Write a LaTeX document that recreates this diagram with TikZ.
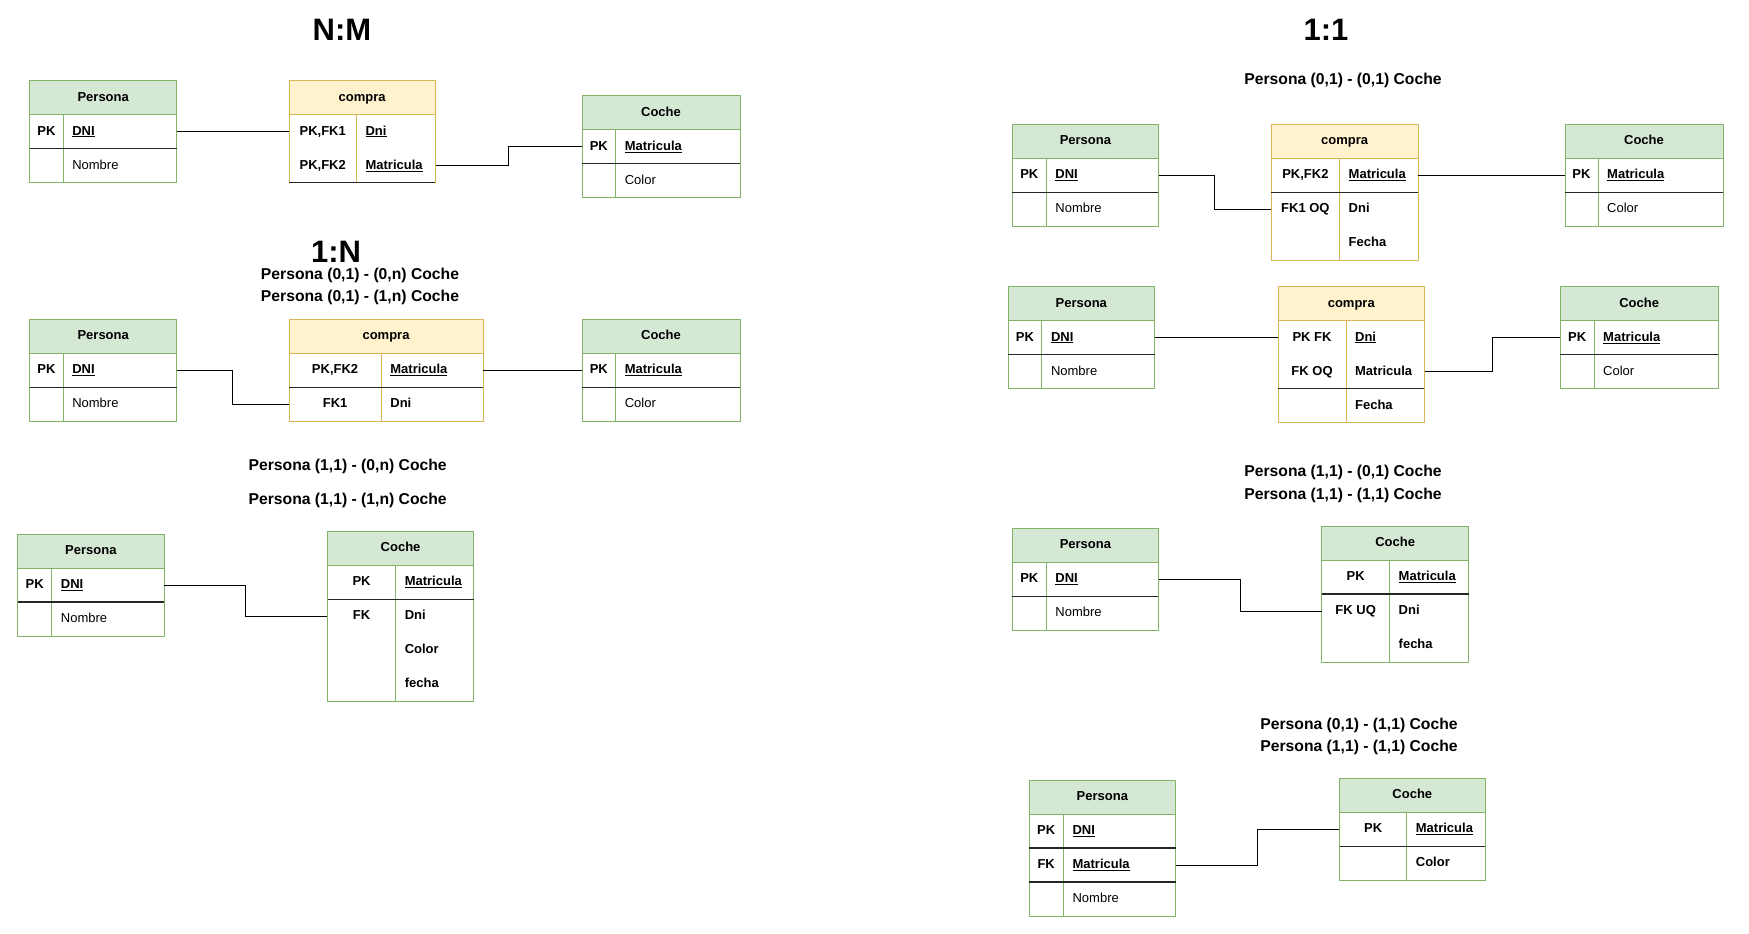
\documentclass[tikz,border=0pt]{standalone}
\usepackage{fontspec}
\setmainfont{Liberation Sans}
\definecolor{verdefondo}{HTML}{D5E8D4}
\definecolor{verdeborde}{HTML}{82B366}
\definecolor{amarillofondo}{HTML}{FFF2CC}
\definecolor{amarilloborde}{HTML}{D6B656}
\tikzset{
	cab/.style={line width=0.8pt, inner sep=0pt, minimum height=34pt, text height=9.5pt, text depth=2.5pt, font=\bfseries\fontsize{13}{15}\selectfont},
	filabox/.style={inner sep=0pt, minimum height=34pt},
	clave/.style={inner sep=0pt, text height=9.5pt, text depth=2.5pt, font=\bfseries\fontsize{13}{15}\selectfont},
	campo/.style={anchor=west, inner sep=0pt, text height=9.5pt, text depth=2.5pt, font=\bfseries\fontsize{13}{15}\selectfont},
	campofino/.style={anchor=west, inner sep=0pt, text height=9.5pt, text depth=2.5pt, font=\fontsize{13}{15}\selectfont},
	linea/.style={line width=1.4pt, black!85},
	union/.style={line width=1pt},
	titulo/.style={inner sep=0pt, font=\bfseries\fontsize{31}{35}\selectfont},
	rotulo/.style={inner sep=0pt, font=\bfseries\fontsize{15.7}{18}\selectfont}
}
\newcommand{\entidad}[4]{%
	\node[cab, fill=#2fondo, draw=#2borde, minimum width=\ancho*1pt] (#1) at ({\ancho/2},17) {#4};
	\draw[#2borde, line width=0.8pt] (0,34) rectangle (\ancho,{34+34*#3});
	\draw[#2borde, line width=0.8pt] (\col,34) -- (\col,{34+34*#3});
}
\newcommand{\fila}[5]{%
	\node[filabox, minimum width=\ancho*1pt] (#1) at ({\ancho/2},{17+34*#2}) {};
	\node[clave] at ({\col/2},{17+34*#2}) {#3};
	\node[#4] at ({\col+9},{17+34*#2}) {#5};
}
\newcommand{\separa}[1]{\draw[linea] (0,{34+34*#1}) -- (\ancho,{34+34*#1});}

\begin{document}
\begin{tikzpicture}[x=1pt, y=-1pt]
			\useasboundingbox (0,0) rectangle (1749,934);
			
			\node[titulo] (tnm) at (342,30) {N:M};
			\node[titulo] (t1n) at (336,252) {1:N};
			\node[titulo] (t11) at (1326,30) {1:1};
			\node[rotulo] (r1) at (360,275.5) {Persona (0,1) - (0,n) Coche};
			\node[rotulo] (r2) at (360,297.7) {Persona (0,1) - (1,n) Coche};
			\node[rotulo] (r3) at (347.7,466.7) {Persona (1,1) - (0,n) Coche};
			\node[rotulo] (r4) at (347.7,500.7) {Persona (1,1) - (1,n) Coche};
			\node[rotulo] (r5) at (1343,80.7) {Persona (0,1) - (0,1) Coche};
			\node[rotulo] (r6) at (1343,472.7) {Persona (1,1) - (0,1) Coche};
			\node[rotulo] (r7) at (1343,495) {Persona (1,1) - (1,1) Coche};
			\node[rotulo] (r8) at (1359,725) {Persona (0,1) - (1,1) Coche};
			\node[rotulo] (r9) at (1359,747.3) {Persona (1,1) - (1,1) Coche};
			
			% N:M
			\begin{scope}[shift={(29.7,80.7)}]
				\def\ancho{147}\def\col{33.4}
				\entidad{p1}{verde}{2}{Persona}
				\fila{p1a}{1}{PK}{campo}{\underline{DNI}}
				\fila{p1b}{2}{}{campofino}{Nombre}
				\separa{1}
			\end{scope}
			\begin{scope}[shift={(289,80.7)}]
				\def\ancho{146.4}\def\col{67.4}
				\entidad{c1}{amarillo}{2}{compra}
				\fila{c1a}{1}{PK,FK1}{campo}{\underline{Dni}}
				\fila{c1b}{2}{PK,FK2}{campo}{\underline{Matricula}}
				\separa{2}
			\end{scope}
			\begin{scope}[shift={(582,95.7)}]
				\def\ancho{158}\def\col{33.6}
				\entidad{k1}{verde}{2}{Coche}
				\fila{k1a}{1}{PK}{campo}{\underline{Matricula}}
				\fila{k1b}{2}{}{campofino}{Color}
				\separa{1}
			\end{scope}
			
			% 1:N
			\begin{scope}[shift={(29.7,319.3)}]
				\def\ancho{147}\def\col{33.4}
				\entidad{p2}{verde}{2}{Persona}
				\fila{p2a}{1}{PK}{campo}{\underline{DNI}}
				\fila{p2b}{2}{}{campofino}{Nombre}
				\separa{1}
			\end{scope}
			\begin{scope}[shift={(289,319.3)}]
				\def\ancho{194}\def\col{92.2}
				\entidad{c2}{amarillo}{2}{compra}
				\fila{c2a}{1}{PK,FK2}{campo}{\underline{Matricula}}
				\fila{c2b}{2}{FK1}{campo}{Dni}
				\separa{1}
			\end{scope}
			\begin{scope}[shift={(582,319.3)}]
				\def\ancho{158}\def\col{33.6}
				\entidad{k2}{verde}{2}{Coche}
				\fila{k2a}{1}{PK}{campo}{\underline{Matricula}}
				\fila{k2b}{2}{}{campofino}{Color}
				\separa{1}
			\end{scope}
			\begin{scope}[shift={(17.7,534)}]
				\def\ancho{146.3}\def\col{34}
				\entidad{p3}{verde}{2}{Persona}
				\fila{p3a}{1}{PK}{campo}{\underline{DNI}}
				\fila{p3b}{2}{}{campofino}{Nombre}
				\separa{1}
			\end{scope}
			\begin{scope}[shift={(327.6,531.3)}]
				\def\ancho{146}\def\col{68}
				\entidad{k3}{verde}{4}{Coche}
				\fila{k3a}{1}{PK}{campo}{\underline{Matricula}}
				\fila{k3b}{2}{FK}{campo}{Dni}
				\fila{k3c}{3}{}{campo}{Color}
				\fila{k3d}{4}{}{campo}{fecha}
				\separa{1}
			\end{scope}
			
			% 1:1
			\begin{scope}[shift={(1012.4,124.3)}]
				\def\ancho{146}\def\col{33.8}
				\entidad{p4}{verde}{2}{Persona}
				\fila{p4a}{1}{PK}{campo}{\underline{DNI}}
				\fila{p4b}{2}{}{campofino}{Nombre}
				\separa{1}
			\end{scope}
			\begin{scope}[shift={(1271.3,124.3)}]
				\def\ancho{146.7}\def\col{68.2}
				\entidad{c4}{amarillo}{3}{compra}
				\fila{c4a}{1}{PK,FK2}{campo}{\underline{Matricula}}
				\fila{c4b}{2}{FK1 OQ}{campo}{Dni}
				\fila{c4c}{3}{}{campo}{Fecha}
				\separa{1}
			\end{scope}
			\begin{scope}[shift={(1565,124.3)}]
				\def\ancho{158}\def\col{33}
				\entidad{k4}{verde}{2}{Coche}
				\fila{k4a}{1}{PK}{campo}{\underline{Matricula}}
				\fila{k4b}{2}{}{campofino}{Color}
				\separa{1}
			\end{scope}
			\begin{scope}[shift={(1008,286.7)}]
				\def\ancho{146.6}\def\col{33.8}
				\entidad{p5}{verde}{2}{Persona}
				\fila{p5a}{1}{PK}{campo}{\underline{DNI}}
				\fila{p5b}{2}{}{campofino}{Nombre}
				\separa{1}
			\end{scope}
			\begin{scope}[shift={(1278.2,286.7)}]
				\def\ancho{146.1}\def\col{67.7}
				\entidad{c5}{amarillo}{3}{compra}
				\fila{c5a}{1}{PK FK}{campo}{\underline{Dni}}
				\fila{c5b}{2}{FK OQ}{campo}{Matricula}
				\fila{c5c}{3}{}{campo}{Fecha}
				\separa{2}
			\end{scope}
			\begin{scope}[shift={(1560.2,286.7)}]
				\def\ancho{158}\def\col{33.8}
				\entidad{k5}{verde}{2}{Coche}
				\fila{k5a}{1}{PK}{campo}{\underline{Matricula}}
				\fila{k5b}{2}{}{campofino}{Color}
				\separa{1}
			\end{scope}
			\begin{scope}[shift={(1012.4,528.3)}]
				\def\ancho{146}\def\col{33.8}
				\entidad{p6}{verde}{2}{Persona}
				\fila{p6a}{1}{PK}{campo}{\underline{DNI}}
				\fila{p6b}{2}{}{campofino}{Nombre}
				\separa{1}
			\end{scope}
			\begin{scope}[shift={(1321.8,526)}]
				\def\ancho{146.7}\def\col{67.7}
				\entidad{k6}{verde}{3}{Coche}
				\fila{k6a}{1}{PK}{campo}{\underline{Matricula}}
				\fila{k6b}{2}{FK UQ}{campo}{Dni}
				\fila{k6c}{3}{}{campo}{fecha}
				\separa{1}
			\end{scope}
			\begin{scope}[shift={(1029,780)}]
				\def\ancho{146.7}\def\col{34.4}
				\entidad{p7}{verde}{3}{Persona}
				\fila{p7a}{1}{PK}{campo}{\underline{DNI}}
				\fila{p7b}{2}{FK}{campo}{\underline{Matricula}}
				\fila{p7c}{3}{}{campofino}{Nombre}
				\separa{1}
				\separa{2}
			\end{scope}
			\begin{scope}[shift={(1339.5,778.3)}]
				\def\ancho{145.7}\def\col{67.2}
				\entidad{k7}{verde}{2}{Coche}
				\fila{k7a}{1}{PK}{campo}{\underline{Matricula}}
				\fila{k7b}{2}{}{campo}{Color}
				\separa{1}
			\end{scope}
			
			\draw[union] (p1a.east) -- (c1a.west);
			\draw[union] (c1b.east) -- ++(73,0) |- (k1a.west);
			\draw[union] (p2a.east) -- ++(56,0) |- (c2b.west);
			\draw[union] (c2a.east) -- (k2a.west);
			\draw[union] (p3a.east) -- ++(81.4,0) |- (k3b.west);
			\draw[union] (p4a.east) -- ++(56,0) |- (c4b.west);
			\draw[union] (c4a.east) -- (k4a.west);
			\draw[union] (p5a.east) -- (c5a.west);
			\draw[union] (c5b.east) -- ++(68,0) |- (k5a.west);
			\draw[union] (p6a.east) -- ++(81.5,0) |- (k6b.west);
			\draw[union] (p7b.east) -- ++(82,0) |- (k7a.west);
			
\end{tikzpicture}
\end{document}
